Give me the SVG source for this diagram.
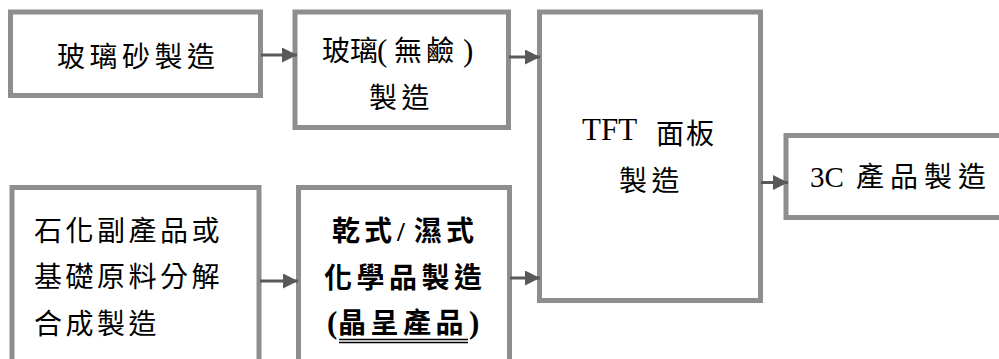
<svg xmlns="http://www.w3.org/2000/svg" width="999" height="359" viewBox="0 0 999 359">
<style>
.box{fill:#fff;stroke:#8e8e8e;stroke-width:5}
.t{font-family:"Liberation Serif","Noto Sans CJK TC",serif;font-size:28px;letter-spacing:4.5px;fill:#000}
.lat{font-family:"Liberation Serif",serif;font-size:31px;letter-spacing:0}
.p{font-size:31px}
.b{font-weight:700}
.c{stroke:#595959;stroke-width:3;fill:none}
</style>
<defs>
<marker id="ah" markerUnits="userSpaceOnUse" markerWidth="15" markerHeight="15" viewBox="0 0 15 15" refX="15" refY="7.5" orient="auto">
<path d="M0,0 L15,7.5 L0,15 Z" fill="#595959"/>
</marker>
</defs>
<rect width="999" height="359" fill="#fff"/>
<g id="n1">
<rect class="box" x="10.5" y="12" width="250" height="83.5"/>
<text class="t" x="57" y="67">玻璃砂製造</text>
</g>
<g id="n2">
<rect class="box" x="295" y="12" width="213.5" height="115.5"/>
<text class="t" y="61" style="letter-spacing:0"><tspan x="322 350">玻璃</tspan><tspan class="p" x="377">(</tspan><tspan x="394 426">無鹼</tspan><tspan class="p" x="463">)</tspan></text>
<text class="t" x="369" y="108">製造</text>
</g>
<g id="n3">
<rect class="box" x="539.5" y="12" width="221" height="288.5"/>
<text class="t" x="582" y="140"><tspan class="lat">TFT </tspan><tspan x="656" dy="4" style="letter-spacing:2px">面板</tspan></text>
<text class="t" x="619" y="191">製造</text>
</g>
<g id="n4">
<rect class="box" x="786" y="135.5" width="230" height="82"/>
<text class="t" x="810" y="187"><tspan class="lat" style="font-size:29px">3C </tspan><tspan x="856" style="letter-spacing:6px">產品製造</tspan></text>
</g>
<g id="n5">
<rect class="box" x="12" y="187.5" width="247" height="190"/>
<text class="t" x="34" y="240.5" style="letter-spacing:3.5px">石化副產品或</text>
<text class="t" x="34" y="287" style="letter-spacing:3.5px">基礎原料分解</text>
<text class="t" x="34" y="333.5" style="letter-spacing:3.5px">合成製造</text>
</g>
<g id="n6">
<rect class="box" x="298.5" y="187.5" width="211" height="190"/>
<text class="t b" x="332 364 397 414 446" y="240.5" style="letter-spacing:0">乾式/濕式</text>
<text class="t b" x="324" y="288">化學品製造</text>
<text class="t b" y="333" style="letter-spacing:0"><tspan class="p" x="327">(</tspan><tspan x="338 370.5 403 435.5">晶呈產品</tspan><tspan class="p" x="469">)</tspan></text>
<line x1="339" y1="339.5" x2="468" y2="339.5" stroke="#000" stroke-width="1.3"/>
<line x1="339" y1="342.5" x2="468" y2="342.5" stroke="#000" stroke-width="1.3"/>
</g>
<g id="connectors">
<line class="c" x1="261" y1="55" x2="297" y2="55" marker-end="url(#ah)"/>
<line class="c" x1="509" y1="57" x2="540" y2="57" marker-end="url(#ah)"/>
<line class="c" x1="761" y1="182.5" x2="788" y2="182.5" marker-end="url(#ah)"/>
<line class="c" x1="260" y1="281" x2="298" y2="281" marker-end="url(#ah)"/>
<line class="c" x1="510" y1="278" x2="540" y2="278" marker-end="url(#ah)"/>
</g>
</svg>
